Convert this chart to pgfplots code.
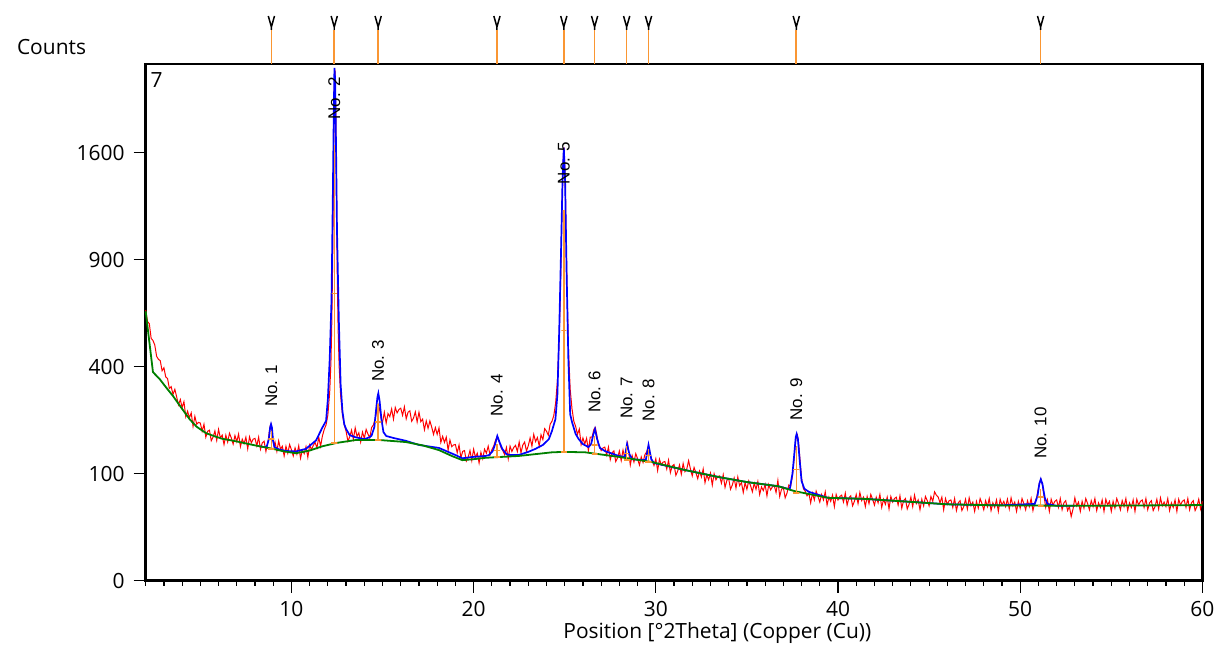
\documentclass[border=0pt]{standalone}
\usepackage{fontspec}
\setmainfont{Open Sans}
\newfontfamily\labelfont{Liberation Sans}
\usepackage{pgfplots}
\usepackage{pgfplotstable}
\pgfplotsset{compat=1.18}

\definecolor{xrdred}{RGB}{255,0,0}
\definecolor{xrdblue}{RGB}{0,0,255}
\definecolor{xrdgreen}{RGB}{0,128,0}
\definecolor{xrdorange}{RGB}{250,150,50}

% measured counts
\pgfplotstableread[row sep=\\]{
x y\\
2.0 640\\ 2.1 587\\ 2.2 577\\ 2.3 513\\ 2.4 504\\ 2.5 485\\ 2.6 440\\ 2.7 428\\ 2.8 423\\ 2.9 385\\
3.0 396\\ 3.1 363\\ 3.2 357\\ 3.3 323\\ 3.4 329\\ 3.5 303\\ 3.6 320\\ 3.7 295\\ 3.8 270\\ 3.9 287\\
4.0 262\\ 4.1 280\\ 4.2 235\\ 4.3 251\\ 4.4 232\\ 4.5 246\\ 4.6 208\\ 4.7 236\\ 4.8 214\\ 4.9 219\\
5.0 217\\ 5.1 195\\ 5.2 214\\ 5.3 180\\ 5.4 195\\ 5.5 198\\ 5.6 171\\ 5.7 180\\ 5.8 196\\ 5.9 172\\
6.0 200\\ 6.1 178\\ 6.2 185\\ 6.3 162\\ 6.4 185\\ 6.5 168\\ 6.6 190\\ 6.7 178\\ 6.8 163\\ 6.9 184\\
7.0 169\\ 7.1 188\\ 7.2 157\\ 7.3 175\\ 7.4 164\\ 7.5 180\\ 7.6 152\\ 7.7 181\\ 7.8 166\\ 7.9 175\\
8.0 177\\ 8.1 159\\ 8.2 180\\ 8.3 151\\ 8.4 166\\ 8.5 170\\ 8.6 146\\ 8.72 170\\ 8.78 192\\ 8.84 210\\
8.88 214\\ 8.93 198\\ 8.98 175\\ 9.05 158\\ 9.1 168\\ 9.2 146\\ 9.3 171\\ 9.4 151\\ 9.5 158\\ 9.6 136\\
9.7 158\\ 9.8 142\\ 9.9 162\\ 10.0 150\\ 10.1 136\\ 10.2 154\\ 10.3 140\\ 10.4 159\\ 10.5 131\\ 10.6 149\\
10.7 141\\ 10.8 157\\ 10.9 133\\ 11.0 161\\ 11.1 150\\ 11.2 160\\ 11.3 167\\ 11.4 154\\ 11.5 180\\ 11.6 158\\
11.7 183\\ 11.8 200\\ 11.9 212\\ 12.0 240\\ 12.1 310\\ 12.17 420\\ 12.22 600\\ 12.27 950\\ 12.31 1500\\ 12.35 2100\\
12.39 2280\\ 12.43 1950\\ 12.47 1350\\ 12.51 850\\ 12.56 560\\ 12.62 400\\ 12.7 300\\ 12.8 240\\ 12.9 212\\ 13.0 195\\
13.1 170\\ 13.2 181\\ 13.3 198\\ 13.4 175\\ 13.5 204\\ 13.6 182\\ 13.7 191\\ 13.8 168\\ 13.9 193\\ 14.0 177\\
14.1 200\\ 14.2 188\\ 14.3 178\\ 14.4 205\\ 14.5 212\\ 14.6 230\\ 14.7 258\\ 14.78 270\\ 14.86 250\\ 14.95 222\\
15.0 219\\ 15.1 248\\ 15.2 217\\ 15.3 244\\ 15.4 235\\ 15.5 258\\ 15.6 228\\ 15.7 262\\ 15.8 246\\ 15.9 256\\
16.0 260\\ 16.1 239\\ 16.2 264\\ 16.3 229\\ 16.4 248\\ 16.5 252\\ 16.6 222\\ 16.7 231\\ 16.8 249\\ 16.9 220\\
17.0 248\\ 17.1 221\\ 17.2 228\\ 17.3 199\\ 17.4 223\\ 17.5 203\\ 17.6 223\\ 17.7 206\\ 17.8 187\\ 17.9 205\\
18.0 187\\ 18.1 204\\ 18.2 167\\ 18.3 182\\ 18.4 167\\ 18.5 180\\ 18.6 149\\ 18.7 173\\ 18.8 157\\ 18.9 161\\
19.0 162\\ 19.1 143\\ 19.2 161\\ 19.3 132\\ 19.4 146\\ 19.5 148\\ 19.6 125\\ 19.7 133\\ 19.8 148\\ 19.9 126\\
20.0 151\\ 20.1 133\\ 20.2 142\\ 20.3 121\\ 20.4 144\\ 20.5 130\\ 20.6 151\\ 20.7 142\\ 20.8 158\\ 20.9 138\\
21.0 150\\ 21.1 158\\ 21.2 172\\ 21.3 182\\ 21.4 168\\ 21.5 155\\ 21.6 148\\ 21.7 139\\ 21.8 155\\ 21.9 130\\
22.0 158\\ 22.1 146\\ 22.2 155\\ 22.3 160\\ 22.4 146\\ 22.5 168\\ 22.6 143\\ 22.7 161\\ 22.8 168\\ 22.9 147\\
23.0 159\\ 23.1 178\\ 23.2 158\\ 23.3 187\\ 23.4 169\\ 23.5 179\\ 23.6 159\\ 23.7 186\\ 23.8 174\\ 23.9 202\\
24.0 195\\ 24.1 185\\ 24.2 214\\ 24.3 222\\ 24.4 238\\ 24.5 275\\ 24.6 350\\ 24.7 520\\ 24.78 800\\ 24.85 1200\\
24.91 1520\\ 24.96 1640\\ 25.01 1480\\ 25.06 1150\\ 25.12 780\\ 25.2 480\\ 25.3 320\\ 25.4 258\\ 25.5 222\\ 25.6 208\\
25.7 187\\ 25.8 201\\ 25.9 162\\ 26.0 178\\ 26.1 163\\ 26.2 177\\ 26.3 148\\ 26.4 180\\ 26.5 180\\ 26.6 200\\
26.68 205\\ 26.76 186\\ 26.85 162\\ 26.95 155\\ 27.0 148\\ 27.1 154\\ 27.2 156\\ 27.3 138\\ 27.4 156\\ 27.5 128\\
27.6 143\\ 27.7 147\\ 27.8 124\\ 27.9 132\\ 28.0 147\\ 28.1 126\\ 28.2 149\\ 28.3 131\\ 28.38 150\\ 28.45 165\\
28.52 142\\ 28.6 117\\ 28.7 137\\ 28.8 123\\ 28.9 141\\ 29.0 130\\ 29.1 117\\ 29.2 134\\ 29.3 122\\ 29.4 139\\
29.5 145\\ 29.6 160\\ 29.7 138\\ 29.8 126\\ 29.9 116\\ 30.0 130\\ 30.1 106\\ 30.2 129\\ 30.3 117\\ 30.4 123\\
30.5 124\\ 30.6 109\\ 30.7 127\\ 30.8 102\\ 30.9 115\\ 31.0 118\\ 31.1 97\\ 31.2 105\\ 31.3 117\\ 31.4 99\\
31.5 120\\ 31.6 104\\ 31.7 109\\ 31.8 126\\ 31.9 109\\ 32.0 96\\ 32.1 112\\ 32.2 102\\ 32.3 91\\ 32.4 105\\
32.5 94\\ 32.6 109\\ 32.7 84\\ 32.8 98\\ 32.9 89\\ 33.0 101\\ 33.1 80\\ 33.2 100\\ 33.3 89\\ 33.4 95\\
33.5 96\\ 33.6 83\\ 33.7 98\\ 33.8 76\\ 33.9 88\\ 34.0 91\\ 34.1 73\\ 34.2 80\\ 34.3 92\\ 34.4 75\\
34.5 94\\ 34.6 79\\ 34.7 84\\ 34.8 68\\ 34.9 84\\ 35.0 73\\ 35.1 87\\ 35.2 79\\ 35.3 69\\ 35.4 83\\
35.5 73\\ 35.6 86\\ 35.7 65\\ 35.8 77\\ 35.9 71\\ 36.0 81\\ 36.1 63\\ 36.2 81\\ 36.3 72\\ 36.4 77\\
36.5 79\\ 36.6 68\\ 36.7 88\\ 36.8 62\\ 36.9 73\\ 37.0 76\\ 37.1 60\\ 37.2 67\\ 37.3 80\\ 37.4 78\\
37.5 96\\ 37.58 125\\ 37.65 162\\ 37.71 182\\ 37.77 186\\ 37.84 165\\ 37.92 125\\ 38.0 92\\ 38.1 74\\ 38.2 70\\
38.3 63\\ 38.4 67\\ 38.5 53\\ 38.6 67\\ 38.7 57\\ 38.8 70\\ 38.9 62\\ 39.0 54\\ 39.1 65\\ 39.2 57\\
39.3 69\\ 39.4 50\\ 39.5 61\\ 39.6 55\\ 39.7 64\\ 39.8 48\\ 39.9 65\\ 40.0 57\\ 40.1 62\\ 40.2 64\\
40.3 54\\ 40.4 67\\ 40.5 50\\ 40.6 60\\ 40.7 63\\ 40.8 49\\ 40.9 55\\ 41.0 65\\ 41.1 52\\ 41.2 68\\
41.3 56\\ 41.4 61\\ 41.5 48\\ 41.6 62\\ 41.7 52\\ 41.8 65\\ 41.9 58\\ 42.0 50\\ 42.1 61\\ 42.2 53\\
42.3 65\\ 42.4 47\\ 42.5 58\\ 42.6 51\\ 42.7 61\\ 42.8 45\\ 42.9 62\\ 43.0 54\\ 43.1 59\\ 43.2 61\\
43.3 50\\ 43.4 63\\ 43.5 46\\ 43.6 56\\ 43.7 59\\ 43.8 45\\ 43.9 51\\ 44.0 61\\ 44.1 48\\ 44.2 64\\
44.3 52\\ 44.4 57\\ 44.5 44\\ 44.6 58\\ 44.7 49\\ 44.8 62\\ 44.9 56\\ 45.0 49\\ 45.1 62\\ 45.2 55\\
45.3 69\\ 45.4 64\\ 45.5 61\\ 45.6 53\\ 45.7 61\\ 45.8 44\\ 45.9 59\\ 46.0 51\\ 46.1 56\\ 46.2 57\\
46.3 47\\ 46.4 59\\ 46.5 43\\ 46.6 53\\ 46.7 56\\ 46.8 43\\ 46.9 48\\ 47.0 58\\ 47.1 45\\ 47.2 60\\
47.3 49\\ 47.4 54\\ 47.5 42\\ 47.6 55\\ 47.7 46\\ 47.8 59\\ 47.9 52\\ 48.0 44\\ 48.1 56\\ 48.2 48\\
48.3 59\\ 48.4 43\\ 48.5 53\\ 48.6 47\\ 48.7 57\\ 48.8 42\\ 48.9 58\\ 49.0 50\\ 49.1 55\\ 49.2 48\\
49.3 58\\ 49.4 45\\ 49.5 60\\ 49.6 49\\ 49.7 54\\ 49.8 42\\ 49.9 55\\ 50.0 46\\ 50.1 59\\ 50.2 52\\
50.3 44\\ 50.4 56\\ 50.5 48\\ 50.6 59\\ 50.7 43\\ 50.8 53\\ 50.9 60\\ 50.98 72\\ 51.06 84\\ 51.14 90\\
51.22 80\\ 51.3 64\\ 51.4 47\\ 51.5 57\\ 51.6 42\\ 51.7 58\\ 51.8 50\\ 51.9 55\\ 52.0 57\\ 52.1 47\\
52.2 59\\ 52.3 44\\ 52.4 53\\ 52.5 56\\ 52.6 43\\ 52.7 48\\ 52.8 36\\ 52.9 45\\ 53.0 60\\ 53.1 49\\
53.2 54\\ 53.3 42\\ 53.4 55\\ 53.5 46\\ 53.6 59\\ 53.7 52\\ 53.8 44\\ 53.9 56\\ 54.0 48\\ 54.1 59\\
54.2 43\\ 54.3 53\\ 54.4 47\\ 54.5 57\\ 54.6 42\\ 54.7 58\\ 54.8 50\\ 54.9 55\\ 55.0 42\\ 55.1 55\\
55.2 46\\ 55.3 59\\ 55.4 52\\ 55.5 44\\ 55.6 56\\ 55.7 48\\ 55.8 59\\ 55.9 43\\ 56.0 53\\ 56.1 47\\
56.2 57\\ 56.3 42\\ 56.4 58\\ 56.5 50\\ 56.6 55\\ 56.7 57\\ 56.8 47\\ 56.9 59\\ 57.0 44\\ 57.1 53\\
57.2 56\\ 57.3 43\\ 57.4 48\\ 57.5 58\\ 57.6 45\\ 57.7 60\\ 57.8 49\\ 57.9 54\\ 58.0 48\\ 58.1 59\\
58.2 43\\ 58.3 53\\ 58.4 47\\ 58.5 57\\ 58.6 42\\ 58.7 58\\ 58.8 50\\ 58.9 55\\ 59.0 57\\ 59.1 47\\
59.2 59\\ 59.3 44\\ 59.4 53\\ 59.5 56\\ 59.6 43\\ 59.7 48\\ 59.8 58\\ 59.9 45\\ 60.0 55\\
}\measured

% calculated profile
\pgfplotstableread[row sep=\\]{
x y\\
8.3 158\\ 8.5 156\\ 8.65 158\\ 8.76 175\\ 8.83 205\\ 8.88 214\\ 8.93 205\\ 8.99 172\\ 9.07 156\\ 9.3 151\\
9.7 147\\ 10.25 146\\ 10.8 152\\ 11.35 172\\ 11.71 206\\ 11.9 223\\ 12.0 288\\ 12.1 428\\ 12.2 691\\ 12.27 1269\\
12.32 1856\\ 12.36 2297\\ 12.4 2191\\ 12.45 1622\\ 12.5 1077\\ 12.6 597\\ 12.7 337\\ 12.8 251\\ 12.9 214\\ 13.0 201\\
13.2 185\\ 13.5 180\\ 14.0 175\\ 14.3 180\\ 14.4 184\\ 14.55 206\\ 14.65 257\\ 14.72 294\\ 14.77 307\\ 14.84 282\\
14.94 228\\ 15.05 193\\ 15.2 183\\ 15.6 178\\ 16.28 171\\ 17.0 161\\ 18.1 154\\ 19.0 138\\ 19.38 131\\ 20.0 134\\
20.66 136\\ 20.85 138\\ 21.05 147\\ 21.18 163\\ 21.3 183\\ 21.42 168\\ 21.57 152\\ 21.8 140\\ 22.0 138\\ 22.48 138\\
23.0 145\\ 23.4 152\\ 23.8 161\\ 24.13 175\\ 24.3 196\\ 24.49 228\\ 24.6 304\\ 24.7 552\\ 24.8 958\\ 24.88 1405\\
24.95 1638\\ 25.02 1405\\ 25.1 846\\ 25.2 428\\ 25.3 242\\ 25.4 220\\ 25.6 188\\ 25.77 175\\ 26.0 163\\ 26.3 156\\
26.45 163\\ 26.56 185\\ 26.66 201\\ 26.78 175\\ 26.93 154\\ 27.2 147\\ 27.96 136\\ 28.3 134\\ 28.42 163\\ 28.55 140\\
28.7 129\\ 29.45 127\\ 29.6 161\\ 29.75 129\\ 29.9 121\\ 31.6 107\\ 33.43 94\\ 35.0 85\\ 36.72 78\\ 37.35 73\\
37.5 100\\ 37.6 140\\ 37.68 180\\ 37.73 188\\ 37.8 175\\ 37.9 125\\ 38.0 87\\ 38.15 74\\ 38.4 69\\ 39.46 60\\
41.47 58.5\\ 44.2 54\\ 46.0 51\\ 48.8 49.6\\ 50.8 51.5\\ 50.95 62.8\\ 51.05 82\\ 51.13 90\\ 51.22 82\\ 51.35 60\\
51.5 51.5\\ 52.0 49\\ 53.0 49\\
}\profile

% background
\pgfplotstableread[row sep=\\]{
x y\\
2.0 634\\ 2.4 380\\ 2.77 355\\ 3.1 328\\ 3.5 298\\ 4.0 258\\ 4.41 228\\ 4.8 207\\ 5.32 190\\ 5.8 182\\
6.2 176\\ 6.7 172\\ 7.15 168\\ 8.0 160\\ 8.97 152\\ 9.6 146\\ 10.25 142\\ 11.0 148\\ 11.71 158\\ 12.5 166\\
13.54 173\\ 14.81 173\\ 16.28 168\\ 17.2 160\\ 18.1 149\\ 18.8 136\\ 19.38 127\\ 20.0 129\\ 20.66 132\\ 22.48 136\\
24.3 144\\ 24.95 145\\ 26.13 144\\ 27.96 134\\ 29.78 123\\ 31.6 107\\ 33.43 94\\ 35.0 85\\ 36.72 78\\ 37.63 70\\
39.46 60\\ 41.47 58.5\\ 44.2 54\\ 46.0 51\\ 48.8 49.6\\ 53.3 49\\ 60.0 50\\
}\background

\begin{document}
\begin{tikzpicture}
\begin{axis}[
  width=529.5pt, height=259pt, scale only axis,
  xmin=2, xmax=60, ymin=0, ymax=2333,
  y coord trafo/.code={\pgfmathparse{sqrt(#1)}},
  y coord inv trafo/.code={\pgfmathparse{(#1)^2}},
  xtick={10,20,...,60},
  minor xtick={2,...,60},
  ytick={0,100,400,900,1600},
  yticklabels={0,100,400,900,1600},
  tick align=outside,
  xtick pos=bottom, ytick pos=left,
  xtick style={black, line width=0.6pt},
  ytick style={black, line width=0.6pt},
  major tick length=6pt, minor tick length=2.6pt,
  axis line style={line width=1.3pt},
  /pgf/number format/assume math mode=true,
  tick label style={font=\fontsize{10.5}{12}\selectfont},
  xticklabel style={yshift=-1pt},
  yticklabel style={xshift=-1pt},
  xlabel={Position [°2Theta] (Copper (Cu))},
  xlabel style={font=\fontsize{10.5}{12}\selectfont, at={(axis description cs:0.541,0)}, anchor=center, yshift=-26pt},
  clip=false,
]
\addplot[xrdred, line width=0.5pt] table[x=x, y=y] {\measured};
\addplot[xrdblue, line width=0.85pt] table[x=x, y=y] {\profile};
\addplot[xrdgreen, line width=0.9pt] table[x=x, y=y] {\background};

% peak sticks: base bar, stick, mid bar
\addplot[xrdorange, line width=0.7pt] coordinates {(8.73,152)(9.07,152)(8.90,152)(8.90,175)(8.73,175)(9.07,175)(8.90,175)(8.90,196)};
\addplot[xrdorange, line width=0.7pt] coordinates {(12.18,166)(12.52,166)(12.35,166)(12.35,719)(12.21,719)(12.49,719)(12.35,719)(12.35,1660)};
\addplot[xrdorange, line width=0.7pt] coordinates {(14.59,173)(14.93,173)(14.76,173)(14.76,220)(14.59,220)(14.93,220)(14.76,220)(14.76,272)};
\addplot[xrdorange, line width=0.7pt] coordinates {(21.11,134)(21.45,134)(21.28,134)(21.28,148)(21.11,148)(21.45,148)(21.28,148)(21.28,163)};
\addplot[xrdorange, line width=0.7pt] coordinates {(24.78,145)(25.12,145)(24.95,145)(24.95,546)(24.81,546)(25.09,546)(24.95,546)(24.95,1203)};
\addplot[xrdorange, line width=0.7pt] coordinates {(26.47,140)(26.81,140)(26.64,140)(26.64,161)(26.47,161)(26.81,161)(26.64,161)(26.64,183)};
\addplot[xrdorange, line width=0.7pt] coordinates {(28.23,127)(28.57,127)(28.40,127)(28.40,142)(28.26,142)(28.54,142)(28.40,142)(28.40,158)};
\addplot[xrdorange, line width=0.7pt] coordinates {(29.43,123)(29.77,123)(29.60,123)(29.60,137)(29.46,137)(29.74,137)(29.60,137)(29.60,152)};
\addplot[xrdorange, line width=0.7pt] coordinates {(37.54,67)(37.88,67)(37.71,67)(37.71,108)(37.54,108)(37.88,108)(37.71,108)(37.71,158)};
\addplot[xrdorange, line width=0.7pt] coordinates {(50.95,49)(51.29,49)(51.12,49)(51.12,61)(50.95,61)(51.29,61)(51.12,61)(51.12,74)};

% reference markers above the frame
\addplot[xrdorange, line width=0.8pt] coordinates {(8.90,2333)(8.90,2649)};
\addplot[xrdorange, line width=0.8pt] coordinates {(12.35,2333)(12.35,2649)};
\addplot[xrdorange, line width=0.8pt] coordinates {(14.76,2333)(14.76,2649)};
\addplot[xrdorange, line width=0.8pt] coordinates {(21.28,2333)(21.28,2649)};
\addplot[xrdorange, line width=0.8pt] coordinates {(24.95,2333)(24.95,2649)};
\addplot[xrdorange, line width=0.8pt] coordinates {(26.64,2333)(26.64,2649)};
\addplot[xrdorange, line width=0.8pt] coordinates {(28.40,2333)(28.40,2649)};
\addplot[xrdorange, line width=0.8pt] coordinates {(29.60,2333)(29.60,2649)};
\addplot[xrdorange, line width=0.8pt] coordinates {(37.71,2333)(37.71,2649)};
\addplot[xrdorange, line width=0.8pt] coordinates {(51.12,2333)(51.12,2649)};
\addplot[black, line width=0.75pt] coordinates {(8.73,2785)(8.90,2678)(9.07,2785)(8.90,2678)(8.90,2649)};
\addplot[black, line width=0.75pt] coordinates {(12.18,2785)(12.35,2678)(12.52,2785)(12.35,2678)(12.35,2649)};
\addplot[black, line width=0.75pt] coordinates {(14.59,2785)(14.76,2678)(14.93,2785)(14.76,2678)(14.76,2649)};
\addplot[black, line width=0.75pt] coordinates {(21.11,2785)(21.28,2678)(21.45,2785)(21.28,2678)(21.28,2649)};
\addplot[black, line width=0.75pt] coordinates {(24.78,2785)(24.95,2678)(25.12,2785)(24.95,2678)(24.95,2649)};
\addplot[black, line width=0.75pt] coordinates {(26.47,2785)(26.64,2678)(26.81,2785)(26.64,2678)(26.64,2649)};
\addplot[black, line width=0.75pt] coordinates {(28.23,2785)(28.40,2678)(28.57,2785)(28.40,2678)(28.40,2649)};
\addplot[black, line width=0.75pt] coordinates {(29.43,2785)(29.60,2678)(29.77,2785)(29.60,2678)(29.60,2649)};
\addplot[black, line width=0.75pt] coordinates {(37.54,2785)(37.71,2678)(37.88,2785)(37.71,2678)(37.71,2649)};
\addplot[black, line width=0.75pt] coordinates {(50.95,2785)(51.12,2678)(51.29,2785)(51.12,2678)(51.12,2649)};

% peak labels
\begin{scope}[every node/.style={rotate=90, anchor=west, inner sep=0pt, font=\labelfont\fontsize{8.5}{10}\selectfont}]
\node at (axis cs:8.90,263) {No. 1};
\node at (axis cs:12.35,1856) {No. 2};
\node at (axis cs:14.76,344) {No. 3};
\node at (axis cs:21.28,234) {No. 4};
\node at (axis cs:24.95,1370) {No. 5};
\node at (axis cs:26.64,245) {No. 6};
\node at (axis cs:28.40,228) {No. 7};
\node at (axis cs:29.60,220) {No. 8};
\node at (axis cs:37.71,223) {No. 9};
\node at (axis cs:51.12,129) {No. 10};
\end{scope}

\node[anchor=west, font=\fontsize{10.5}{12}\selectfont, xshift=-68pt, yshift=8.5pt] at (rel axis cs:0,1) {Counts};
\node[font=\fontsize{10.5}{12}\selectfont, xshift=5.5pt, yshift=-8pt] at (rel axis cs:0,1) {7};
\path (rel axis cs:0,0) ++(-73pt,-38pt) rectangle ++(610.5pt,329pt);
\end{axis}
\end{tikzpicture}
\end{document}
